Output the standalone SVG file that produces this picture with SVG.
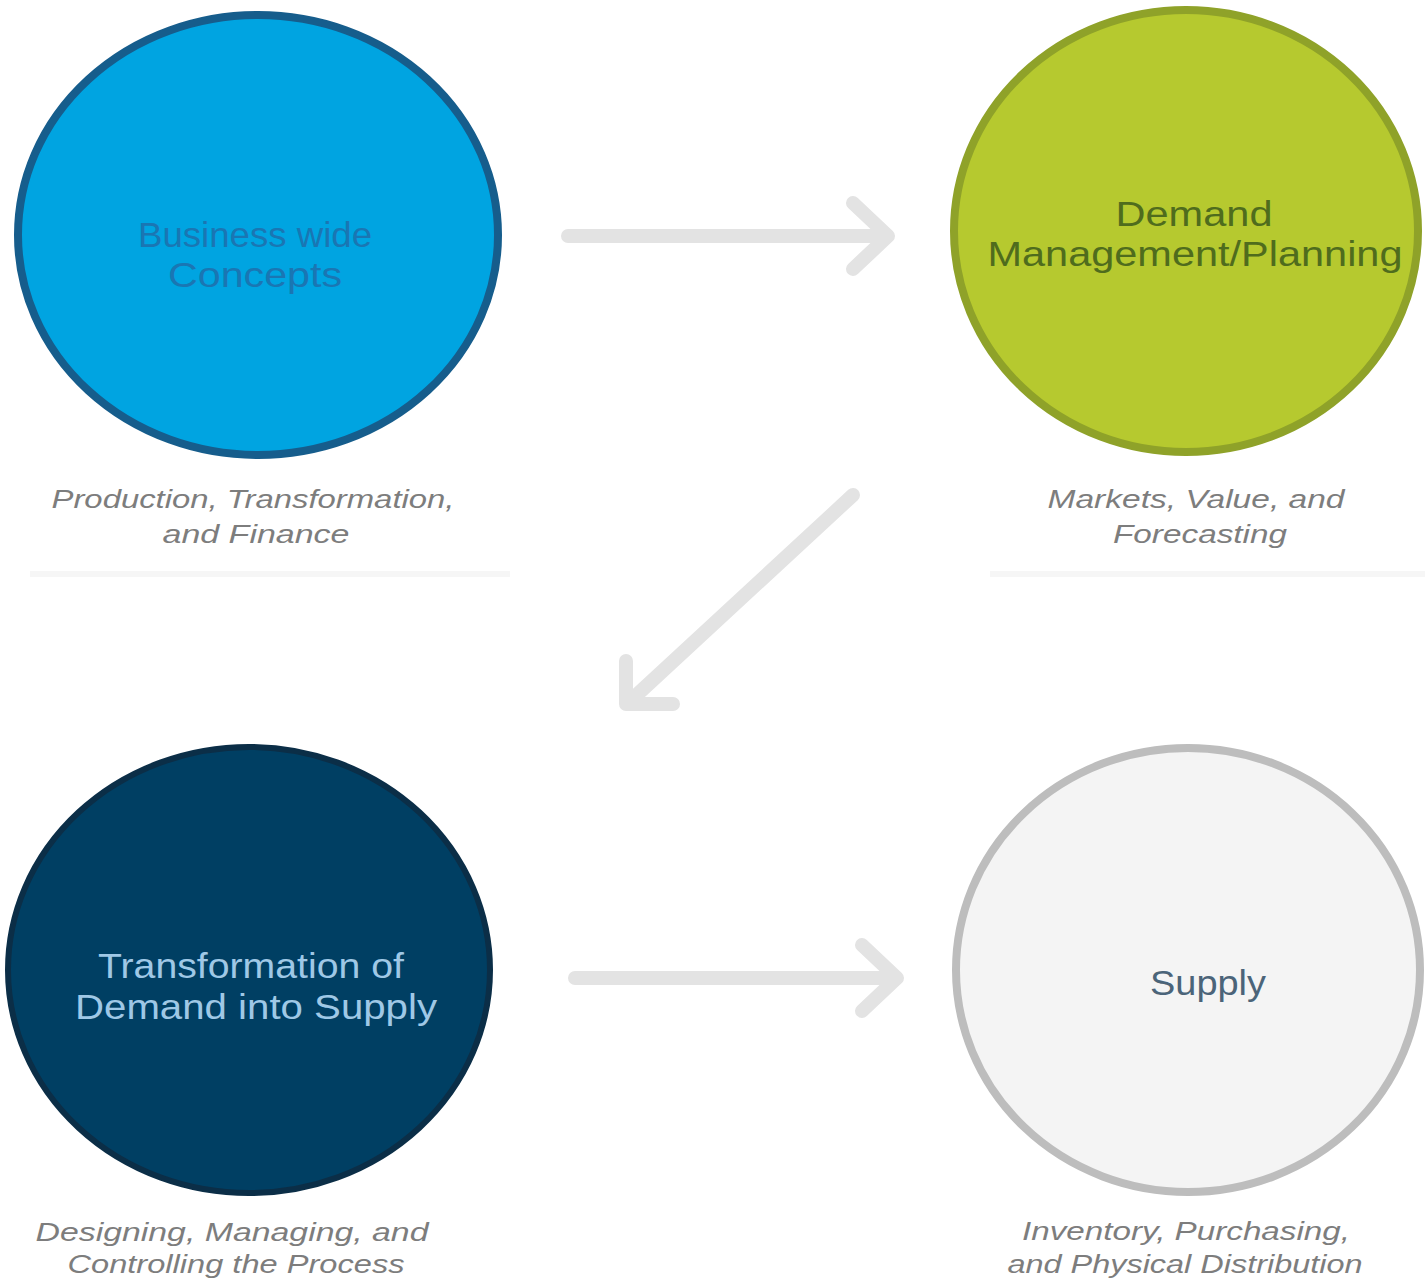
<svg xmlns="http://www.w3.org/2000/svg" width="1425" height="1278" viewBox="0 0 1425 1278">
<defs>
<style>
.lbl{font-family:"Liberation Sans",Arial,sans-serif;font-size:35px;text-anchor:middle}
.cap{font-family:"Liberation Sans",Arial,sans-serif;font-size:26px;font-style:italic;fill:#7d7d7d;text-anchor:middle}
.arr{fill:none;stroke:#e3e3e3;stroke-width:14;stroke-linecap:round;stroke-linejoin:round}
.sep{fill:#f6f6f6}
</style>
</defs>
<rect width="1425" height="1278" fill="#ffffff"/>

<g id="node-business">
<ellipse cx="258" cy="235" rx="240" ry="220" fill="#00a4e1" stroke="#165d8c" stroke-width="8"/>
<text class="lbl" x="255" y="247" fill="#1a76b3" textLength="234" lengthAdjust="spacingAndGlyphs">Business wide</text>
<text class="lbl" x="255" y="287" fill="#1a76b3" textLength="174" lengthAdjust="spacingAndGlyphs">Concepts</text>
<text class="cap" x="253" y="508" textLength="403" lengthAdjust="spacingAndGlyphs">Production, Transformation,</text>
<text class="cap" x="256" y="543" textLength="187" lengthAdjust="spacingAndGlyphs">and Finance</text>
<rect class="sep" x="30" y="571" width="480" height="6"/>
</g>

<g id="node-demand">
<ellipse cx="1186" cy="231" rx="232" ry="221" fill="#b6c92f" stroke="#8fa229" stroke-width="8"/>
<text class="lbl" x="1194" y="226" fill="#4f6c1d" textLength="157" lengthAdjust="spacingAndGlyphs">Demand</text>
<text class="lbl" x="1195" y="266" fill="#4f6c1d" textLength="415" lengthAdjust="spacingAndGlyphs">Management/Planning</text>
<text class="cap" x="1196" y="508" textLength="297" lengthAdjust="spacingAndGlyphs">Markets, Value, and</text>
<text class="cap" x="1200" y="543" textLength="174" lengthAdjust="spacingAndGlyphs">Forecasting</text>
<rect class="sep" x="990" y="571" width="435" height="6"/>
</g>

<g id="node-transformation">
<ellipse cx="249" cy="970" rx="241" ry="223" fill="#003f63" stroke="#0b2e47" stroke-width="6"/>
<text class="lbl" x="251" y="978" fill="#9fc8e6" textLength="306" lengthAdjust="spacingAndGlyphs">Transformation of</text>
<text class="lbl" x="256" y="1019" fill="#9fc8e6" textLength="362" lengthAdjust="spacingAndGlyphs">Demand into Supply</text>
<text class="cap" x="232" y="1241" textLength="393" lengthAdjust="spacingAndGlyphs">Designing, Managing, and</text>
<text class="cap" x="236" y="1273" textLength="337" lengthAdjust="spacingAndGlyphs">Controlling the Process</text>
</g>

<g id="node-supply">
<ellipse cx="1188" cy="970" rx="232" ry="222" fill="#f4f4f4" stroke="#bdbdbd" stroke-width="8"/>
<text class="lbl" x="1208" y="995" fill="#4b6479" font-size="33" textLength="116" lengthAdjust="spacingAndGlyphs">Supply</text>
<text class="cap" x="1186" y="1240" textLength="328" lengthAdjust="spacingAndGlyphs">Inventory, Purchasing,</text>
<text class="cap" x="1185" y="1273" textLength="355" lengthAdjust="spacingAndGlyphs">and Physical Distribution</text>
</g>

<g id="connectors">
<path class="arr" d="M568 236 H886 M853 203 L888 236 L853 269"/>
<path class="arr" d="M853 495 L628 703 M626 661 L626 704 L673 704"/>
<path class="arr" d="M575 978 H895 M862 945 L897 978 L862 1011"/>
</g>
</svg>
